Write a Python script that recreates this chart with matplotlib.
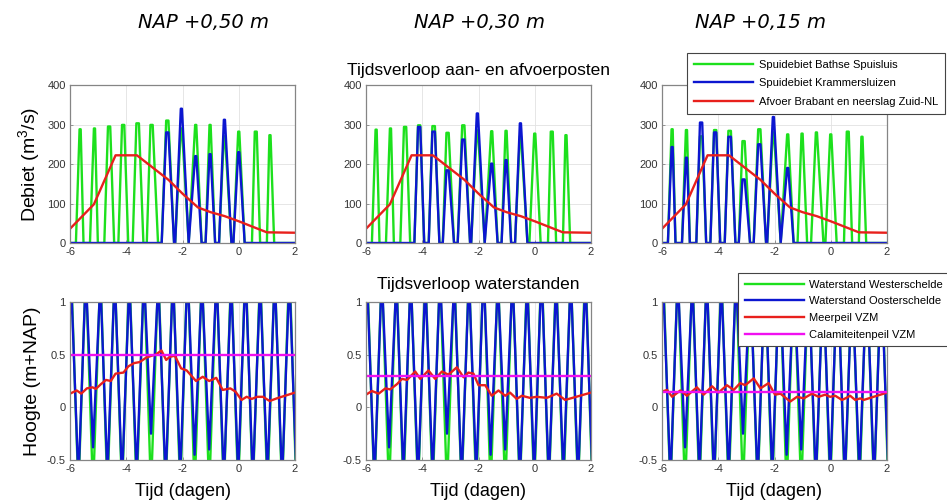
import matplotlib
matplotlib.use('Agg')
import matplotlib.pyplot as plt

plt.rcParams['font.family'] = ['Liberation Sans', 'DejaVu Sans']
plt.rcParams['mathtext.fontset'] = 'custom'
plt.rcParams['mathtext.rm'] = 'Liberation Sans'
plt.rcParams['mathtext.default'] = 'regular'
plt.rcParams['axes.unicode_minus'] = False

# Scenario labels and calamity levels (m+NAP)
scenarios = ['NAP +0,50 m', 'NAP +0,30 m', 'NAP +0,15 m']
calamiteit = [0.50, 0.30, 0.15]

# Discharge pulses (days): start, peak, top end, end of each sluice pulse
pulse_start = [-5.79, -5.29, -4.78, -4.28, -3.77, -3.27, -2.74, -2.26, -1.78, -1.18, -0.70, -0.19, 0.47, 1.00]
pulse_peak = [-5.66, -5.15, -4.65, -4.15, -3.64, -3.14, -2.58, -2.06, -1.55, -1.04, -0.53, -0.02, 0.57, 1.09]
pulse_top = [-5.62, -5.11, -4.57, -4.07, -3.55, -3.06, -2.50, -2.02, -1.51, -1.00, -0.49, 0.02, 0.64, 1.13]
pulse_end = [-5.52, -5.01, -4.43, -3.93, -3.39, -2.87, -2.30, -1.78, -1.32, -0.84, -0.26, 0.21, 0.76, 1.26]

# Peak discharge (m3/s) per scenario
bathse = [
    [288, 290, 295, 299, 303, 299, 310, 290, 299, 299, 270, 282, 282, 273],
    [287, 290, 294, 298, 296, 279, 298, 285, 283, 284, 270, 277, 282, 273],
    [288, 286, 270, 286, 284, 258, 288, 280, 275, 277, 280, 275, 282, 269],
]
krammer = [
    [0, 0, 0, 0, 0, 0, 280, 340, 220, 225, 312, 230, 0, 0],
    [0, 0, 0, 294, 282, 184, 262, 328, 201, 210, 303, 0, 0, 0],
    [243, 216, 305, 280, 269, 161, 250, 319, 190, 0, 0, 0, 0, 0],
]

# Afvoer Brabant en neerslag Zuid-NL
afvoer_t = [-6.0, -5.15, -4.38, -3.62, -2.5, -2.0, -1.45, -1.0, -0.5, 0.0, 1.0, 2.0]
afvoer_q = [36, 98, 222, 222, 160, 125, 90, 78, 68, 55, 27, 26]

# Tide extremes (days, m+NAP)
tide_t = [-6.48, -6.22, -5.96, -5.70, -5.44, -5.18, -4.92, -4.67, -4.41, -4.15, -3.89, -3.63,
          -3.37, -3.12, -2.86, -2.60, -2.34, -2.08, -1.82, -1.57, -1.31, -1.05, -0.79, -0.53,
          -0.27, -0.02, 0.24, 0.50, 0.76, 1.02, 1.28, 1.54, 1.80, 2.05, 2.31]
oost_h = [1.25, -0.65, 1.2, -0.7, 1.25, -0.38, 1.2, -0.65, 1.25, -0.7, 1.2, -0.65,
          1.25, -0.25, 1.2, -0.7, 1.25, -0.65, 1.3, -0.45, 1.2, -0.4, 1.25, -0.7,
          1.2, -0.65, 1.3, -0.7, 1.2, -0.65, 1.25, -0.7, 1.25, -0.65, 1.2]
west_h = [1.3, -0.8, 1.3, -0.8, 1.3, -0.8, 1.3, -0.8, 1.3, -0.8, 1.3, -0.8,
          1.3, -0.8, 1.3, -0.8, 1.3, -0.8, 1.4, -0.8, 1.3, -0.8, 1.3, -0.8,
          1.3, -0.8, 1.4, -0.8, 1.3, -0.8, 1.3, -0.8, 1.4, -0.8, 1.3]

# Meerpeil VZM per scenario
meer_t = [
    [-6.0, -5.76, -5.6, -5.4, -5.2, -5.08, -4.9, -4.72, -4.55, -4.38, -4.1, -3.92, -3.72, -3.52,
     -3.3, -3.1, -2.95, -2.75, -2.58, -2.45, -2.27, -2.05, -1.85, -1.52, -1.28, -1.05, -0.8,
     -0.57, -0.3, -0.12, 0.1, 0.28, 0.46, 0.66, 0.86, 1.1, 1.35, 2.0],
    [-6.0, -5.79, -5.55, -5.31, -5.14, -4.9, -4.72, -4.54, -4.25, -4.07, -3.78, -3.54, -3.3,
     -3.07, -2.77, -2.53, -2.36, -2.18, -2.0, -1.76, -1.53, -1.29, -1.05, -0.88, -0.64, -0.46,
     -0.17, 0.07, 0.43, 0.78, 1.08, 2.0],
    [-6.0, -5.82, -5.64, -5.35, -5.11, -4.76, -4.52, -4.22, -3.99, -3.69, -3.45, -3.22, -3.04,
     -2.74, -2.5, -2.21, -1.98, -1.79, -1.44, -1.2, -0.96, -0.67, -0.43, -0.2, -0.02, 0.16,
     0.4, 0.52, 0.69, 0.87, 1.05, 1.17, 2.0],
]
meer_h = [
    [0.13, 0.16, 0.13, 0.18, 0.19, 0.175, 0.22, 0.26, 0.25, 0.32, 0.33, 0.39, 0.42, 0.43,
     0.47, 0.49, 0.50, 0.54, 0.45, 0.48, 0.49, 0.37, 0.35, 0.25, 0.29, 0.25, 0.28,
     0.165, 0.18, 0.15, 0.07, 0.10, 0.08, 0.10, 0.10, 0.06, 0.085, 0.14],
    [0.12, 0.155, 0.13, 0.18, 0.17, 0.22, 0.27, 0.26, 0.34, 0.27, 0.35, 0.27, 0.34,
     0.31, 0.38, 0.285, 0.33, 0.32, 0.21, 0.21, 0.11, 0.16, 0.11, 0.14, 0.08, 0.11,
     0.09, 0.10, 0.09, 0.13, 0.07, 0.14],
    [0.15, 0.165, 0.10, 0.16, 0.11, 0.19, 0.12, 0.20, 0.14, 0.21, 0.165, 0.23, 0.21,
     0.275, 0.18, 0.23, 0.12, 0.13, 0.055, 0.10, 0.085, 0.13, 0.10, 0.12, 0.10, 0.11,
     0.07, 0.085, 0.11, 0.07, 0.085, 0.07, 0.14],
]

GREEN = '#1de01d'
BLUE = '#0c16d0'
RED = '#e8201c'
MAGENTA = '#f010f0'
LW = 1.7


def pulses(peaks):
    x, y = [-6.0], [0.0]
    for s, p, t, e, v in zip(pulse_start, pulse_peak, pulse_top, pulse_end, peaks):
        x += [s, p, t, e]
        y += [0.0, v, v, 0.0]
    x.append(2.0)
    y.append(0.0)
    return x, y


def style(ax):
    ax.set_xlim(-6, 2)
    ax.set_xticks([-6, -4, -2, 0, 2])
    ax.grid(True, color='#e2e2e2', lw=0.6)
    ax.set_axisbelow(True)
    for sp in ax.spines.values():
        sp.set_color('#858585')
        sp.set_linewidth(0.9)
    ax.tick_params(direction='in', length=2.5, width=0.6, color='#858585',
                   labelsize=8, labelcolor='#333333', pad=3)


def legend(ax, x0, y0, size, spacing, textpad):
    leg = ax.legend(loc='upper left', bbox_to_anchor=(x0 / W, 1 - y0 / H),
                    bbox_transform=fig.transFigure, borderaxespad=0, fontsize=size,
                    handlelength=5.3, handletextpad=textpad, labelspacing=spacing,
                    borderpad=0.6, fancybox=False, framealpha=1)
    leg.get_frame().set_edgecolor('#444444')
    leg.get_frame().set_linewidth(0.8)


fig = plt.figure(figsize=(9.47, 5.04), dpi=100)
lefts = [70, 366, 662]
label_x = [203, 479, 760]
W = 947.0
H = 504.0

for i in range(3):
    # top row: discharges
    ax = fig.add_axes([lefts[i] / W, 1 - 243 / H, 225 / W, 158 / H])
    gx, gy = pulses(bathse[i])
    bx, by = pulses(krammer[i])
    ax.plot(gx, gy, color=GREEN, lw=LW, label='Spuidebiet Bathse Spuisluis')
    ax.plot(bx, by, color=BLUE, lw=LW, label='Spuidebiet Krammersluizen')
    ax.plot(afvoer_t, afvoer_q, color=RED, lw=LW, label='Afvoer Brabant en neerslag Zuid-NL')
    ax.set_ylim(0, 400)
    ax.set_yticks([0, 100, 200, 300, 400])
    style(ax)
    if i == 0:
        ax.set_ylabel('Debiet (m$^3$/s)', fontsize=14, labelpad=4)
    if i == 2:
        legend(ax, 687, 53, 8, 0.78, 0.6)

    # bottom row: water levels
    ax = fig.add_axes([lefts[i] / W, 1 - 460 / H, 225 / W, 158 / H])
    ax.plot(tide_t, west_h, color=GREEN, lw=LW, label='Waterstand Westerschelde')
    ax.plot(tide_t, oost_h, color=BLUE, lw=LW, label='Waterstand Oosterschelde')
    ax.plot(meer_t[i], meer_h[i], color=RED, lw=LW, label='Meerpeil VZM')
    ax.axhline(calamiteit[i], color=MAGENTA, lw=LW, label='Calamiteitenpeil VZM')
    ax.set_ylim(-0.5, 1)
    ax.set_yticks([-0.5, 0, 0.5, 1])
    ax.set_yticklabels(['-0.5', '0', '0.5', '1'])
    style(ax)
    ax.set_xlabel('Tijd (dagen)', fontsize=13, labelpad=6)
    if i == 0:
        ax.set_ylabel('Hoogte (m+NAP)', fontsize=14, labelpad=4)
    if i == 2:
        legend(ax, 738, 273, 8, 0.6, 0.5)

    fig.text(label_x[i] / W, 1 - 22 / H, scenarios[i], ha='center', va='center',
             fontsize=14, style='italic', family='DejaVu Sans')

fig.text(478 / W, 1 - 70 / H, 'Tijdsverloop aan- en afvoerposten', ha='center', va='center',
         fontsize=12.5)
fig.text(478 / W, 1 - 285 / H, 'Tijdsverloop waterstanden', ha='center', va='center',
         fontsize=12.5)

fig.savefig('out.png', dpi=100)
